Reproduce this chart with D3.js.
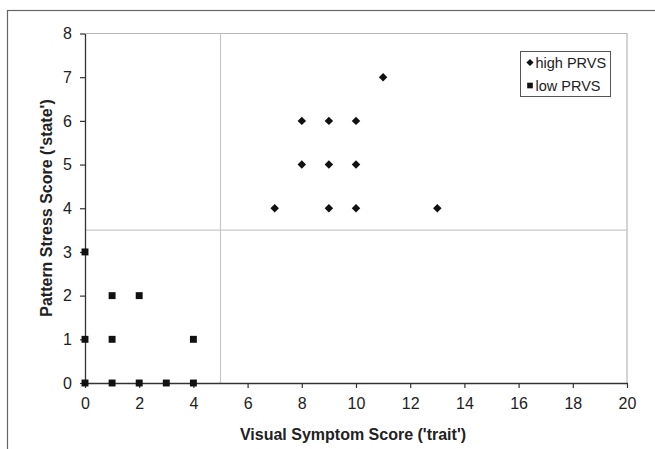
<!DOCTYPE html>
<html>
<head>
<meta charset="utf-8">
<script src="https://cdn.jsdelivr.net/npm/d3@7"></script>
<style>
  html, body { margin: 0; padding: 0; background: #fff; }
  svg { display: block; }
  text { font-family: "Liberation Sans", Arial, sans-serif; fill: #222; }
</style>
</head>
<body>
<svg id="chart" width="655" height="449"></svg>
<script>
// Data
const highX = [7, 8, 8, 9, 9, 9, 10, 10, 10, 11, 13];
const highY = [4, 6, 5, 6, 5, 4, 6, 5, 4, 7, 4];
const lowX = [0, 0, 0, 1, 1, 1, 2, 2, 3, 4, 4];
const lowY = [3, 1, 0, 2, 1, 0, 2, 0, 0, 1, 0];
const xTicks = [0, 2, 4, 6, 8, 10, 12, 14, 16, 18, 20];
const yTicks = [0, 1, 2, 3, 4, 5, 6, 7, 8];
const seriesNames = ["high PRVS", "low PRVS"];
const xCut = 5, yCut = 3.5;
const xTitle = "Visual Symptom Score ('trait')";
const yTitle = "Pattern Stress Score ('state')";

const svg = d3.select("#chart");
const m = { left: 85, right: 627, top: 33.5, bottom: 383 };
const x = d3.scaleLinear().domain([0, 20]).range([m.left, m.right]);
const y = d3.scaleLinear().domain([0, 8]).range([m.bottom, m.top]);

// outer frame
svg.append("rect").attr("x", 7.5).attr("y", 10.5).attr("width", 700).attr("height", 500)
  .attr("fill", "none").attr("stroke", "#666").attr("stroke-width", 1.2);

// plot area border (top & right gray)
svg.append("path")
  .attr("d", `M${m.left},${m.top}H${m.right}V${m.bottom}`)
  .attr("fill", "none").attr("stroke", "#b8b8b8").attr("stroke-width", 1.2);

// cut lines
svg.append("line").attr("x1", x(xCut)).attr("x2", x(xCut)).attr("y1", y(8)).attr("y2", y(0))
  .attr("stroke", "#c8c8c8").attr("stroke-width", 1.2);
svg.append("line").attr("x1", x(0)).attr("x2", x(20)).attr("y1", y(yCut)).attr("y2", y(yCut))
  .attr("stroke", "#c8c8c8").attr("stroke-width", 1.2);

// axes
const xAxis = d3.axisBottom(x).tickValues(xTicks).tickSize(5).tickPadding(10).tickSizeOuter(0);
const yAxis = d3.axisLeft(y).tickValues(yTicks).tickSize(5).tickPadding(8).tickSizeOuter(0);
const gx = svg.append("g").attr("transform", `translate(0,${m.bottom})`).call(xAxis);
const gy = svg.append("g").attr("transform", `translate(${m.left},0)`).call(yAxis);
[gx, gy].forEach(g => {
  g.select(".domain").attr("stroke", "#333").attr("stroke-width", 1.3);
  g.selectAll(".tick line").attr("stroke", "#333").attr("stroke-width", 1.2);
  g.selectAll(".tick text").attr("font-family", "Liberation Sans, Arial, sans-serif")
    .attr("font-size", 16).attr("fill", "#222");
});

// titles
svg.append("text").attr("x", 353).attr("y", 440)
  .attr("text-anchor", "middle").attr("font-size", 16).attr("font-weight", "bold").text(xTitle);
svg.append("text").attr("transform", `translate(52,208) rotate(-90)`)
  .attr("text-anchor", "middle").attr("font-size", 16).attr("font-weight", "bold").text(yTitle);

// markers
const diamond = d3.symbol().type(d3.symbolSquare).size(36);
const square = d3.symbol().type(d3.symbolSquare).size(48);
svg.append("g").selectAll("path").data(highX.map((d, i) => [d, highY[i]])).join("path")
  .attr("d", diamond).attr("transform", d => `translate(${x(d[0])},${y(d[1])}) rotate(45)`).attr("fill", "#111");
svg.append("g").selectAll("path").data(lowX.map((d, i) => [d, lowY[i]])).join("path")
  .attr("d", square).attr("transform", d => `translate(${x(d[0])},${y(d[1])})`).attr("fill", "#111");

// legend
const lg = svg.append("g");
lg.append("rect").attr("x", 520.5).attr("y", 51.5).attr("width", 90).attr("height", 45)
  .attr("fill", "#fff").attr("stroke", "#555").attr("stroke-width", 1);
const items = [
  { name: seriesNames[0], d: d3.symbol().type(d3.symbolSquare).size(26)(), rot: 45, dy: 62.5 },
  { name: seriesNames[1], d: d3.symbol().type(d3.symbolSquare).size(32)(), rot: 0, dy: 85.5 }
];
items.forEach(it => {
  lg.append("path").attr("d", it.d).attr("transform", `translate(530,${it.dy}) rotate(${it.rot})`).attr("fill", "#111");
  lg.append("text").attr("x", 535.5).attr("y", it.dy + 5).attr("font-size", 14.5).text(it.name);
});
</script>
</body>
</html>
